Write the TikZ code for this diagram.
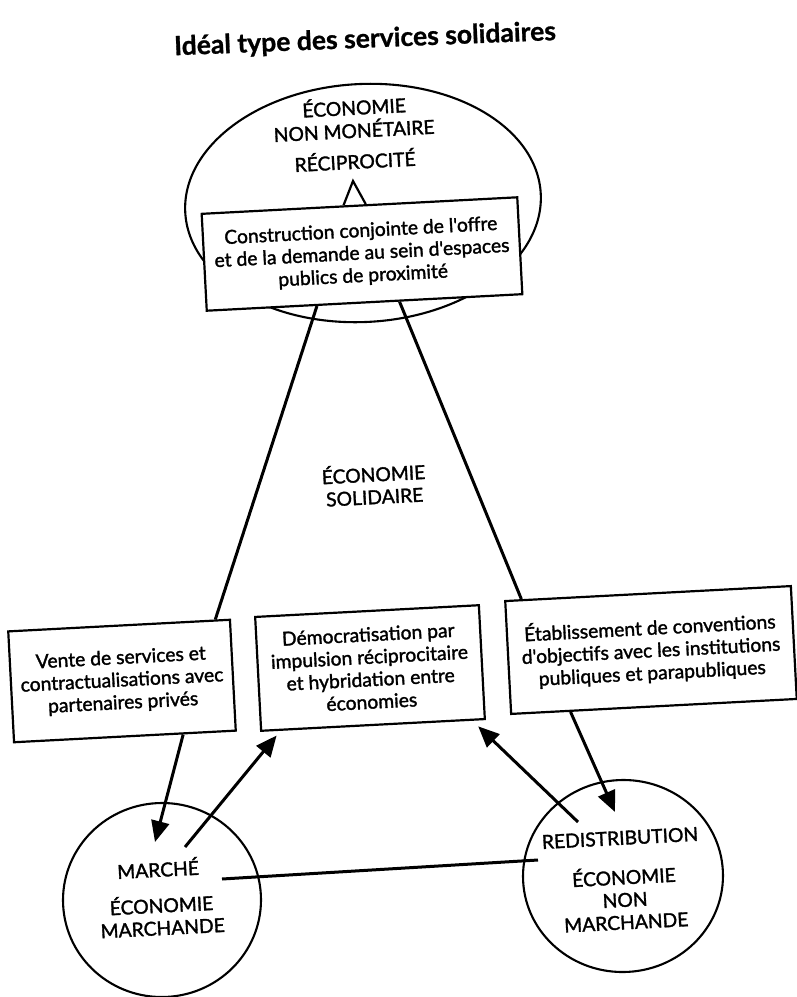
\documentclass[tikz,border=0pt]{standalone}
\usepackage{fontspec}
\setmainfont{Lato}
\newfontfamily\bodyfont{Lato}[FakeBold=1.6]
\newfontfamily\titlefont{Lato Bold}[FakeBold=1]
\usetikzlibrary{calc,arrows.meta,shapes.geometric}
\begin{document}
\begin{tikzpicture}[x=1pt,y=-1pt,
  every node/.style={rotate=3, inner sep=0pt, font=\bodyfont\fontsize{19.3}{22.5}\selectfont},
  stepbox/.style={draw, fill=white, line width=2.2pt, align=center},
  lbl/.style={align=center},
  oval/.style={draw, ellipse, line width=2.1pt},
  conn/.style={line width=3pt},
  arr/.style={conn, -{Triangle[length=21pt,width=18pt]}}
]
\useasboundingbox (0,0) rectangle (796,997);

% title
\node[font=\titlefont\fontsize{26.5}{30}\selectfont, rotate=-0.7] (title) at (365,40) {Idéal type des services solidaires};

% top ellipse
\node[oval, minimum width=356pt, minimum height=238pt] (top) at (363,203) {};
\node[lbl] (t1) at (354,106) {ÉCONOMIE};
\node[lbl] (t2) at (354,129) {NON MONÉTAIRE};
\node[lbl] (recip) at (355,160) {RÉCIPROCITÉ};

% central box
\node[stepbox, minimum width=316pt, minimum height=97pt] (cbox) at (362,254)
  {Construction conjointe de l'offre\\et de la demande au sein d'espaces\\publics de proximité};
\coordinate (apex) at (353,181);
\draw[line width=2.2pt, line join=miter] ($(cbox.north west)!0.45!(cbox.north east)$) -- (apex) -- ($(cbox.north west)!0.52!(cbox.north east)$);

% middle label
\node[lbl] (sol) at (374,484) {ÉCONOMIE\\SOLIDAIRE};

% lower boxes
\node[stepbox, minimum width=222pt, minimum height=111pt] (lbox) at (122,681)
  {Vente de services et\\contractualisations avec\\partenaires privés};
\node[stepbox, minimum width=224pt, minimum height=114pt] (mbox) at (370,668)
  {Démocratisation par\\impulsion réciprocitaire\\et hybridation entre\\économies};
\node[stepbox, minimum width=286pt, minimum height=113pt] (rbox) at (651,650)
  {Établissement de conventions\\d'objectifs avec les institutions\\publiques et parapubliques};

% bottom circles
\node[oval, minimum width=198pt, minimum height=194pt] (lc) at (162,900) {};
\node[lbl] (m1) at (158,868) {MARCHÉ};
\node[lbl] (m2) at (162,915) {ÉCONOMIE\\MARCHANDE};

\node[oval, minimum width=200pt, minimum height=192pt] (rc) at (623,876) {};
\node[lbl] (r1) at (620,838) {REDISTRIBUTION};
\node[lbl] (r2) at (625,898) {ÉCONOMIE\\NON\\MARCHANDE};

% connectors box -> lower boxes
\draw[conn] ($(cbox.south west)!0.35!(cbox.south east)$) -- ($(lbox.north west)!0.93!(lbox.north east)$);
\draw[conn] ($(cbox.south west)!0.61!(cbox.south east)$) -- ($(rbox.north west)!0.06!(rbox.north east)$);

% arrows
\coordinate (a1e) at ($(lc)+(-7,-58)$);
\draw[arr] ($(lbox.south west)!0.76!(lbox.south east)$) -- (a1e);
\coordinate (a2s) at ($(lc)+(23,-53)$);
\draw[arr, shorten >=6pt] (a2s) -- ($(mbox.south west)!0.09!(mbox.south east)$);
\coordinate (a3s) at ($(rc)+(-45,-54)$);
\draw[arr, shorten >=8pt] (a3s) -- ($(mbox.south west)!0.94!(mbox.south east)$);
\coordinate (a4e) at ($(rc)+(-8,-64)$);
\draw[arr] ($(rbox.south west)!0.21!(rbox.south east)$) -- (a4e);

% market line
\coordinate (ml) at ($(lc)+(60,-21)$);
\coordinate (mr) at ($(rc)+(-85,-16)$);
\draw[conn] (ml) -- (mr);
\end{tikzpicture}
\end{document}
